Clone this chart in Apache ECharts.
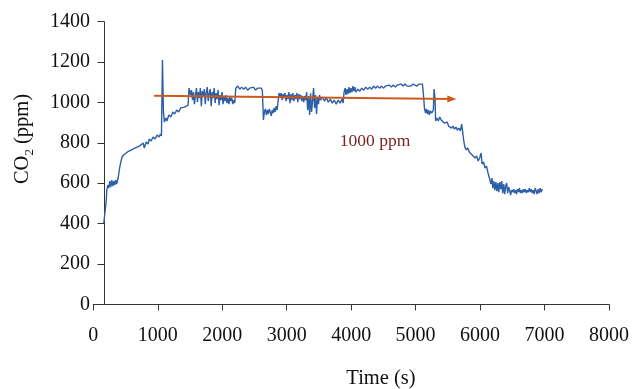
<!DOCTYPE html>
<html>
<head>
<meta charset="utf-8">
<script src="https://cdn.jsdelivr.net/npm/echarts@6/dist/echarts.min.js"></script>
<style>html,body{margin:0;padding:0;background:#fff;}#c{width:632px;height:389px;}</style>
</head>
<body>
<div id="c"></div>
<script>
// ---- data ----
const timeSec = [163,186,202,209,225,240,255,270,286,301,316,332,347,362,385,408,423,446,469,500,530,561,591,622,652,683,714,744,775,790,821,851,866,897,927,958,988,1019,1042,1057,1073,1088,1103,1126,1141,1172,1202,1233,1263,1294,1325,1355,1386,1416,1447,1470,1485,1508,1523,1539,1554,1569,1585,1600,1615,1630,1646,1661,1676,1691,1707,1722,1737,1752,1768,1783,1798,1814,1829,1844,1859,1875,1890,1905,1920,1936,1951,1966,1982,1997,2012,2027,2043,2058,2073,2088,2104,2119,2134,2149,2165,2180,2195,2210,2241,2272,2302,2333,2363,2394,2425,2455,2486,2516,2547,2577,2608,2623,2639,2654,2669,2684,2700,2715,2730,2745,2761,2776,2791,2806,2822,2837,2852,2868,2883,2898,2913,2929,2944,2959,2974,2990,3005,3020,3035,3051,3066,3081,3096,3112,3127,3142,3157,3173,3188,3203,3219,3234,3249,3264,3280,3295,3310,3325,3341,3356,3371,3386,3402,3417,3432,3447,3463,3478,3493,3509,3524,3554,3585,3615,3646,3676,3707,3737,3768,3799,3829,3860,3875,3890,3906,3921,3936,3951,3967,3982,3997,4012,4028,4043,4058,4073,4104,4134,4165,4195,4226,4257,4287,4318,4348,4379,4410,4440,4471,4501,4532,4562,4593,4624,4654,4685,4715,4746,4776,4807,4838,4868,4899,4929,4960,4990,5022,5053,5083,5106,5122,5137,5152,5167,5183,5198,5213,5229,5252,5275,5287,5302,5310,5328,5351,5374,5397,5420,5443,5466,5489,5512,5535,5557,5580,5603,5626,5649,5672,5695,5715,5730,5745,5764,5786,5809,5832,5855,5878,5901,5924,5947,5970,5993,6016,6031,6054,6077,6100,6123,6145,6168,6184,6199,6214,6229,6245,6260,6275,6290,6306,6321,6336,6351,6367,6382,6397,6413,6428,6443,6458,6474,6489,6504,6519,6535,6550,6565,6580,6596,6611,6626,6642,6657,6672,6687,6703,6718,6733,6748,6764,6779,6794,6810,6825,6840,6855,6871,6886,6901,6917,6932,6947,6967];
const co2Ppm = [403,403,517,566,591,576,611,581,616,586,611,591,616,596,626,675,700,730,740,740,755,750,765,760,775,770,784,780,799,775,804,794,819,809,829,819,839,829,844,834,1210,952,903,923,908,938,928,953,943,963,953,973,968,977,973,987,1071,1037,1061,1012,1051,992,1037,1071,1002,1051,1022,1071,982,1056,1027,1066,992,1046,1076,1007,1042,1066,982,1051,1022,1071,997,1046,1017,1061,987,1037,1012,1051,992,1032,1007,1037,997,1022,992,1032,1007,1022,992,1012,997,1071,1081,1066,1076,1066,1076,1061,1071,1066,1076,1061,1071,1066,1071,1056,913,953,968,938,963,943,968,953,933,963,948,973,953,982,963,1012,1046,1027,1046,1012,1042,1022,1046,1007,1037,1017,1051,997,1042,1012,1046,1007,1037,1017,1046,1002,1042,1017,1037,1007,1032,1002,1032,1012,1051,963,1032,938,1046,953,1012,1071,973,1037,943,1027,992,1037,1012,1027,1007,1022,1002,1017,997,1012,992,1012,997,1017,997,1051,1071,1037,1066,1042,1076,1046,1071,1051,1081,1056,1076,1051,1066,1056,1071,1061,1076,1066,1076,1066,1081,1071,1081,1071,1081,1071,1081,1076,1086,1076,1086,1076,1086,1081,1091,1081,1091,1081,1086,1081,1091,1086,1081,1091,1086,1091,1037,973,948,968,943,963,938,958,948,963,1067,1012,908,923,908,928,913,918,898,893,903,883,888,873,883,868,878,863,873,859,893,854,814,779,765,775,755,760,740,745,725,735,710,725,750,695,705,675,685,651,626,596,626,576,611,566,606,561,601,556,606,571,611,551,596,546,586,601,551,581,566,541,566,556,571,551,566,546,571,556,576,551,566,551,571,556,571,551,566,556,576,556,571,551,566,546,576,561,546,571,551,576,556,571];
const arrowTime = [943, 5562];
const arrowPpm = [1033, 1017];
const xTickValues = [0, 1000, 2000, 3000, 4000, 5000, 6000, 7000, 8000];
const yTickValues = [0, 200, 400, 600, 800, 1000, 1200, 1400];

const serif = '"Liberation Serif", "Times New Roman", serif';
const chart = echarts.init(document.getElementById('c'));
chart.setOption({
  animation: false,
  backgroundColor: '#fff',
  grid: { left: 93.3, right: 15.3, top: 21.7, bottom: 84.6, containLabel: false },
  xAxis: {
    type: 'value',
    min: xTickValues[0], max: xTickValues[xTickValues.length - 1],
    interval: xTickValues[1] - xTickValues[0],
    splitLine: { show: false },
    axisLine: { show: true, lineStyle: { color: '#333', width: 1 } },
    axisTick: { show: true, length: 6, lineStyle: { color: '#333' } },
    axisLabel: { margin: 21, color: '#111', fontFamily: serif, fontSize: 20, formatter: v => String(v) }
  },
  yAxis: {
    type: 'value',
    min: yTickValues[0], max: yTickValues[yTickValues.length - 1],
    interval: yTickValues[1] - yTickValues[0],
    offset: -10.7,
    splitLine: { show: false },
    axisLine: { show: true, lineStyle: { color: '#333', width: 1 } },
    axisTick: { show: true, length: 6.5, lineStyle: { color: '#333' } },
    axisLabel: { margin: 14, color: '#111', fontFamily: serif, fontSize: 20, formatter: v => String(v) }
  },
  series: [
    {
      type: 'line',
      showSymbol: false,
      data: timeSec.map((t, i) => [t, co2Ppm[i]]),
      lineStyle: { color: '#2d5ea8', width: 1.4 },
      itemStyle: { color: '#2d5ea8' },
      z: 2
    },
    {
      type: 'line',
      data: [
        { value: [arrowTime[0], arrowPpm[0]], symbol: 'none' },
        { value: [arrowTime[1], arrowPpm[1]], symbol: 'triangle', symbolRotate: -90, symbolSize: [7, 9] }
      ],
      showSymbol: true,
      lineStyle: { color: '#cc5a1e', width: 2 },
      itemStyle: { color: '#cc5a1e' },
      z: 3
    }
  ],
  graphic: [
    {
      type: 'text', x: 375, y: 141,
      style: { text: '1000 ppm', font: '17.5px ' + serif, fill: '#7a1f1f', textAlign: 'center', textVerticalAlign: 'middle' }
    },
    {
      type: 'text', x: 381, y: 379,
      style: { text: 'Time (s)', font: '20.5px ' + serif, fill: '#111', textAlign: 'center', textVerticalAlign: 'middle' }
    },
    {
      type: 'text', x: 23, y: 139, rotation: Math.PI / 2,
      style: {
        text: '{a|CO}{b|2}{a| (ppm)}',
        textAlign: 'center', textVerticalAlign: 'middle',
        rich: {
          a: { fontFamily: serif, fontSize: 20.5, fill: '#111', lineHeight: 26 },
          b: { fontFamily: serif, fontSize: 13, fill: '#111', lineHeight: 26, verticalAlign: 'bottom' }
        }
      }
    }
  ]
});
</script>
</body>
</html>
